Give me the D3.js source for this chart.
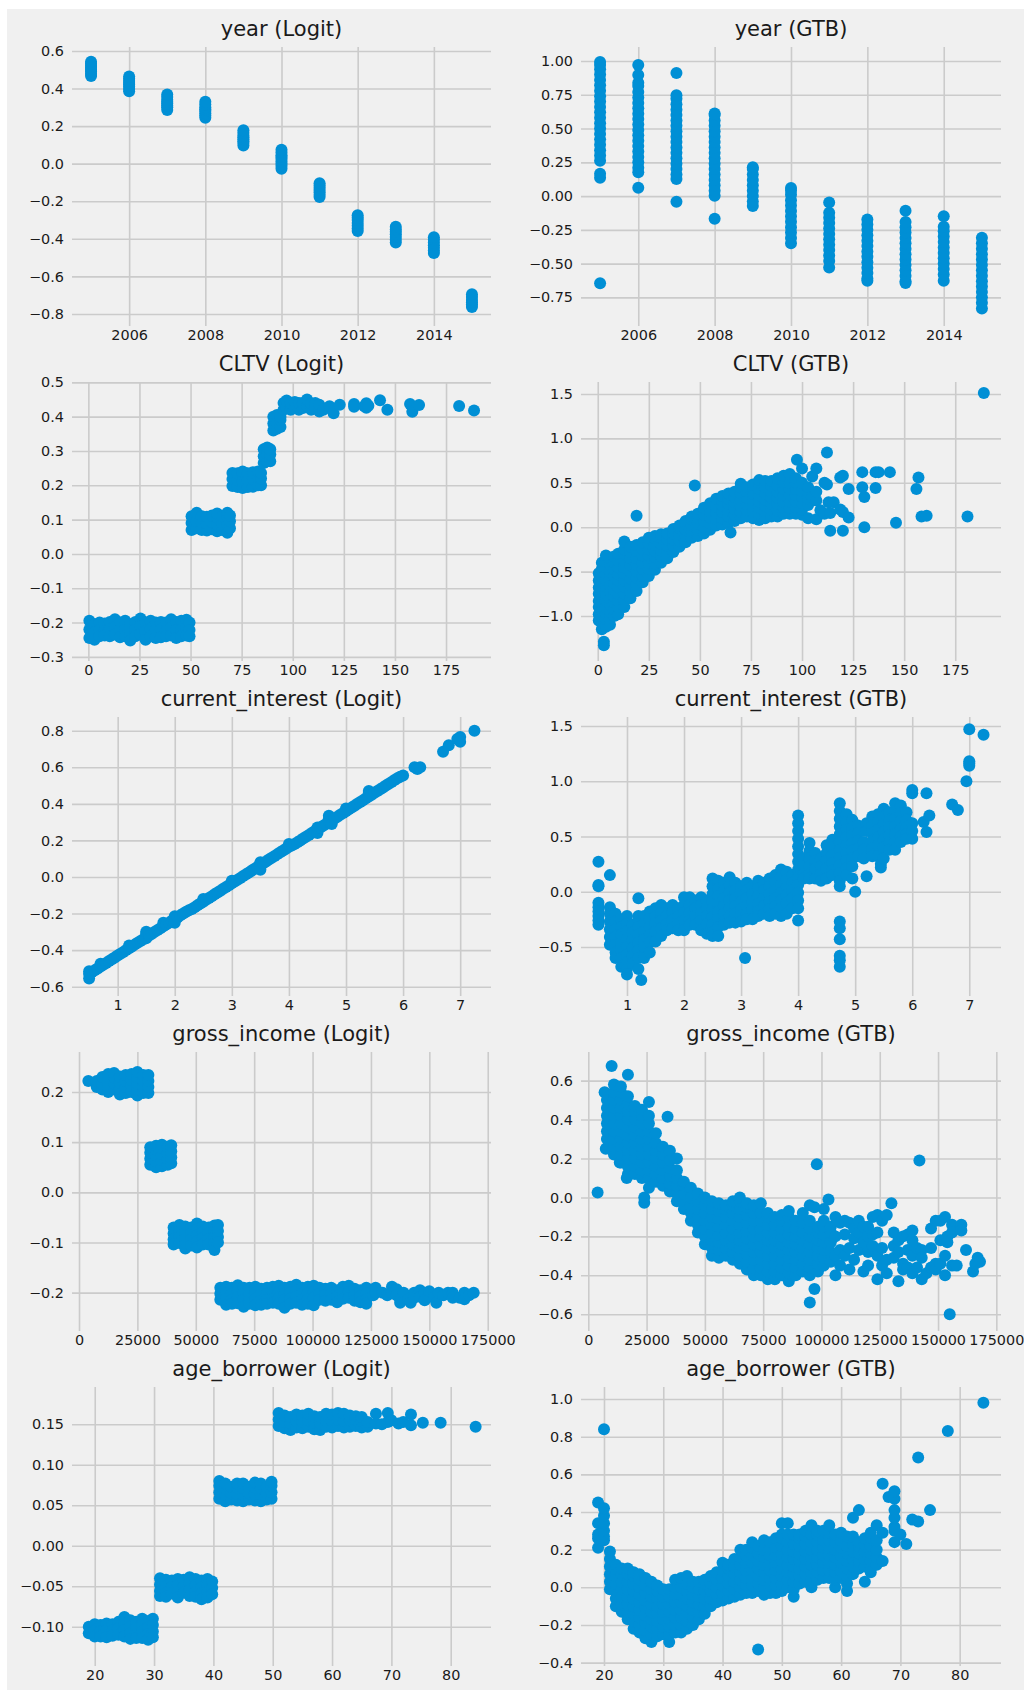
<!DOCTYPE html>
<html>
<head>
<meta charset="utf-8">
<script src="https://cdn.jsdelivr.net/npm/d3@7"></script>
<style>
    body { margin: 0; background: #ffffff; }
    svg { display: block; }
    .tick text { font-family: "DejaVu Sans", sans-serif; font-size: 14.4px; fill: #1a1a1a; }
    .title { font-family: "DejaVu Sans", sans-serif; font-size: 21px; fill: #1a1a1a; }
</style>
</head>
<body>
<svg id="chart" width="1024" height="1690"></svg>
<script>
// each row: [x, y1, y2, ...]  -> one dot per y value at that x

var yearLogit = [
    [2005, .467, .478, .49, .50, .51, .52, .532, .542],
    [2006, .386, .397, .41, .42, .43, .44, .452, .464],
    [2007, .286, .30, .31, .32, .33, .34, .355, .368],
    [2008, .244, .256, .268, .28, .29, .30, .315, .329],
    [2009, .097, .11, .12, .13, .14, .15, .165, .178],
    [2010, -.027, -.012, 0, .012, .025, .035, .045, .06, .074],
    [2011, -.178, -.165, -.152, -.14, -.128, -.116, -.104],
    [2012, -.359, -.345, -.33, -.316, -.30, -.288, -.274],
    [2013, -.419, -.405, -.39, -.376, -.362, -.35, -.336],
    [2014, -.476, -.462, -.448, -.434, -.42, -.405, -.391],
    [2015, -.763, -.75, -.738, -.725, -.71, -.695]
];

var yearGtb = [
    [2005, -.646, .136, .166, .262, .30, .34, .38, .42, .46, .50, .54, .58, .62, .66, .70, .74, .78, .82, .86, .90, .94, .97, .993],
    [2006, .062, .176, .21, .25, .29, .33, .37, .41, .45, .49, .53, .57, .61, .65, .69, .73, .77, .815, .84, .896, .97],
    [2007, -.042, .126, .16, .20, .24, .28, .32, .36, .40, .44, .48, .52, .56, .60, .64, .68, .72, .746, .911],
    [2008, -.168, .003, .04, .08, .12, .16, .20, .24, .28, .32, .36, .40, .44, .48, .52, .56, .60, .612],
    [2009, -.074, -.04, 0, .04, .08, .12, .16, .20, .213],
    [2010, -.35, -.31, -.27, -.23, -.19, -.15, -.11, -.07, -.03, .01, .04, .06],
    [2011, -.528, -.48, -.44, -.40, -.36, -.32, -.28, -.24, -.20, -.16, -.123, -.047],
    [2012, -.627, -.61, -.57, -.53, -.49, -.45, -.41, -.37, -.33, -.29, -.25, -.21, -.173],
    [2013, -.644, -.63, -.59, -.55, -.51, -.47, -.43, -.39, -.35, -.31, -.27, -.23, -.192, -.108],
    [2014, -.627, -.58, -.54, -.50, -.46, -.42, -.38, -.34, -.30, -.26, -.227, -.15],
    [2015, -.832, -.79, -.75, -.71, -.67, -.63, -.59, -.55, -.51, -.47, -.43, -.39, -.35, -.308]
];

var cltvLogit = [
    [0.5, -.195, -.22, -.245], [3, -.205, -.228, -.25], [5.5, -.2, -.222, -.24], [8, -.203, -.225, -.238],
    [10.5, -.198, -.218, -.24], [13, -.19, -.212, -.235], [15.5, -.2, -.222, -.243], [18, -.195, -.22, -.24],
    [20.5, -.205, -.228, -.252], [23, -.198, -.22, -.24], [25.5, -.188, -.21, -.235], [28, -.2, -.225, -.25],
    [30.5, -.195, -.218, -.24], [33, -.2, -.222, -.245], [35.5, -.198, -.22, -.243], [38, -.2, -.225, -.24],
    [40.5, -.19, -.215, -.238], [43, -.198, -.222, -.245], [45.5, -.195, -.22, -.24], [48, -.192, -.215, -.238],
    [49.5, -.2, -.222, -.24],
    [50.5, .07, .09, .11], [53, .075, .095, .12], [55.5, .07, .09, .11], [58, .068, .088, .108],
    [60.5, .072, .092, .112], [63, .066, .086, .106, .118], [65.5, .07, .09, .11], [68, .062, .085, .108, .12],
    [69.3, .075, .095, .112],
    [70.5, .198, .218, .236], [73, .195, .215, .235], [75.5, .192, .212, .232, .24], [78, .195, .215, .235],
    [80.5, .196, .218, .238], [83, .2, .22, .24], [84.5, .2, .22, .236],
    [85.8, .265, .285, .305], [87.5, .27, .29, .31], [89, .27, .29, .305],
    [90.5, .36, .38, .4], [92.3, .365, .385, .405], [94, .37, .39, .4],
    [95.5, .42, .44], [97, .425, .447], [99, .42, .44], [101, .425, .443], [103, .42, .44], [105, .425, .44],
    [107, .43, .45], [109, .42, .438], [111, .425, .44], [113, .415, .435], [115, .42], [118, .43], [120, .41],
    [123, .435], [130, .437, .429], [135, .43], [136, .439, .426], [137, .432], [142.7, .448], [146.3, .42],
    [157.4, .437], [158.5, .414], [161.8, .434], [181.4, .431], [188.7, .418]
];

var cltvGtb = [
    [0.5, -1.05, -.98, -.9, -.83, -.75, -.68, -.6, -.52],
    [2, -1.15, -1.08, -1.0, -.93, -.85, -.78, -.7, -.62, -.55, -.47, -.4],
    [4, -1.12, -1.04, -.97, -.9, -.82, -.75, -.67, -.6, -.52, -.45, -.38, -.32],
    [6, -1.1, -1.02, -.95, -.87, -.8, -.72, -.65, -.57, -.5, -.42, -.35],
    [8, -1.0, -.93, -.85, -.78, -.7, -.63, -.55, -.48, -.4, -.33],
    [10, -.98, -.9, -.83, -.75, -.68, -.6, -.53, -.45, -.38, -.3],
    [13, -.9, -.82, -.75, -.67, -.6, -.52, -.45, -.38, -.3, -.25, -.16],
    [16, -.8, -.73, -.65, -.58, -.5, -.43, -.35, -.28, -.22],
    [19, -.72, -.65, -.57, -.5, -.42, -.35, -.27, -.2, .13],
    [22, -.62, -.55, -.47, -.4, -.32, -.25, -.17],
    [25, -.55, -.47, -.4, -.32, -.25, -.18, -.12],
    [28, -.48, -.41, -.34, -.27, -.2, -.13, -.1],
    [31, -.4, -.33, -.26, -.19, -.12, -.08],
    [34, -.35, -.28, -.21, -.14, -.07],
    [37, -.28, -.21, -.14, -.07, -.02],
    [40, -.22, -.15, -.08, -.01, .02],
    [43, -.17, -.1, -.03, .04, .07],
    [46, -.12, -.05, .02, .09, .12],
    [47.5, .47],
    [49, -.1, -.03, .04, .11, .15],
    [52, -.07, 0, .07, .14, .22],
    [55, -.03, .04, .11, .18, .27],
    [58, .02, .09, .16, .23, .32],
    [61, .03, .1, .17, .24, .3, .35],
    [64, .05, .12, .19, .26, .32, .38],
    [65, -.06],
    [67, .07, .14, .21, .28, .34, .4],
    [70, .1, .17, .24, .31, .38, .45, .49],
    [73, .12, .19, .26, .33, .4, .45],
    [76, .1, .17, .24, .31, .38, .44, .48],
    [79, .08, .15, .22, .29, .36, .43, .5, .53],
    [82, .1, .17, .24, .31, .38, .45, .52],
    [85, .12, .19, .26, .33, .4, .47, .52],
    [88, .12, .19, .26, .33, .4, .47, .55],
    [91, .15, .22, .29, .36, .43, .5, .58],
    [94, .15, .22, .29, .36, .43, .5, .6],
    [97, .15, .22, .29, .36, .43, .5, .55],
    [97.5, .76],
    [100, .14, .2, .27, .34, .41, .5, .66],
    [103, .1, .25, .32, .39, .45],
    [105, .34, .57],
    [107, .09, .3, .4, .66],
    [109, .19],
    [111, .15, .5],
    [112.2, .84, .48],
    [113, .28],
    [113.8, -.04, .16],
    [115.5, .28],
    [118.7, .2, .56],
    [120, -.04, .17, .58],
    [122.8, .11, .43],
    [129.5, .45, .62], [130.5, 0, .34], [136, .44, .62], [137.5, .62], [143, .62], [146, .05],
    [156, .43], [157, .56], [158.5, .12], [161, .13], [181, .12], [189, 1.51],
    [3, -1.29, -1.33]
];

var interestLogit = [
    [0.5, -.555, -.53, -.515], [0.55, -.52], [0.6, -.51], [0.65, -.5], [0.7, -.49, -.475], [0.75, -.48],
    [0.8, -.47], [0.85, -.46], [0.9, -.45], [0.95, -.44], [1.0, -.43], [1.05, -.42], [1.1, -.41], [1.15, -.4],
    [1.2, -.39, -.375], [1.25, -.38], [1.3, -.37], [1.35, -.36], [1.4, -.35], [1.45, -.34], [1.5, -.335, -.31, -.3],
    [1.55, -.32], [1.6, -.31], [1.65, -.3], [1.7, -.29], [1.75, -.28], [1.8, -.27, -.25], [1.85, -.26],
    [1.9, -.25], [1.95, -.24], [2.0, -.235, -.215, -.25], [2.05, -.222], [2.1, -.21], [2.15, -.2],
    [2.2, -.19], [2.25, -.182], [2.3, -.175], [2.35, -.165], [2.4, -.155], [2.45, -.145], [2.5, -.135, -.12],
    [2.55, -.125], [2.6, -.115], [2.65, -.105], [2.7, -.095], [2.75, -.085], [2.8, -.075], [2.85, -.065],
    [2.9, -.055], [2.95, -.045], [3.0, -.035, -.02], [3.05, -.025], [3.1, -.015], [3.15, -.005], [3.2, .005],
    [3.25, .015], [3.3, .025], [3.35, .035], [3.4, .045], [3.45, .055], [3.5, .065, .04, .08], [3.55, .075],
    [3.6, .085], [3.65, .095], [3.7, .105], [3.75, .115], [3.8, .125], [3.85, .135], [3.9, .145], [3.95, .155],
    [4.0, .165, .18], [4.05, .172], [4.1, .18], [4.15, .19], [4.2, .2], [4.25, .21], [4.3, .22], [4.35, .23],
    [4.4, .24], [4.45, .25], [4.5, .26, .24, .27], [4.55, .27], [4.6, .28], [4.65, .29], [4.7, .3, .32, .335],
    [4.75, .31, .29], [4.8, .32], [4.85, .33], [4.9, .34], [4.95, .35], [5.0, .36, .375], [5.05, .37],
    [5.1, .38], [5.15, .39], [5.2, .4], [5.25, .41], [5.3, .42], [5.35, .43], [5.4, .44, .46, .47],
    [5.45, .45], [5.5, .46], [5.55, .47], [5.6, .48], [5.65, .49], [5.7, .5], [5.75, .51], [5.8, .52],
    [5.85, .53], [5.9, .54], [5.95, .548], [6.0, .555],
    [6.2, .6], [6.25, .59], [6.3, .6], [6.7, .685], [6.8, .72], [6.95, .755], [7.0, .765, .74], [7.25, .8]
];

var interestGtb = [
    [0.5, .27, .06, .05, -.1, -.14, -.18, -.22, -.26, -.3],
    [0.7, .15, -.14, -.2, -.27, -.34, -.41, -.48],
    [0.8, -.2, -.27, -.34, -.41, -.48, -.55, -.6],
    [0.9, -.25, -.32, -.39, -.46, -.53, -.6, -.68],
    [1.0, -.22, -.29, -.36, -.43, -.5, -.57, -.64, -.7, -.75],
    [1.1, -.3, -.37, -.44, -.51, -.58, -.65],
    [1.2, -.06, -.22, -.25, -.32, -.39, -.46, -.53, -.6, -.7],
    [1.25, -.8],
    [1.3, -.22, -.29, -.36, -.43, -.5, -.6],
    [1.4, -.18, -.25, -.32, -.39, -.46, -.55],
    [1.5, -.15, -.22, -.29, -.36, -.45],
    [1.6, -.12, -.19, -.26, -.33, -.4],
    [1.7, -.15, -.22, -.29, -.35],
    [1.8, -.12, -.19, -.26, -.33],
    [1.9, -.15, -.22, -.29, -.35],
    [2.0, -.05, -.12, -.19, -.26, -.35],
    [2.1, -.05, -.12, -.19, -.26, -.3],
    [2.2, -.08, -.15, -.22, -.3],
    [2.3, -.05, -.12, -.19, -.26, -.35],
    [2.4, -.08, -.15, -.22, -.29, -.38],
    [2.5, .12, .05, -.02, -.09, -.16, -.23, -.3, -.37, -.4],
    [2.6, .1, .03, -.04, -.11, -.18, -.25, -.32, -.4],
    [2.7, .08, .01, -.06, -.13, -.2, -.27, -.3],
    [2.8, .13, .06, -.01, -.08, -.15, -.22, -.28],
    [2.9, .08, .01, -.06, -.13, -.2, -.28],
    [3.0, .05, -.02, -.09, -.16, -.22, -.27],
    [3.07, -.6],
    [3.1, .08, .01, -.06, -.13, -.2, -.25],
    [3.2, .05, -.02, -.09, -.16, -.25],
    [3.3, .1, .03, -.04, -.11, -.18, -.22],
    [3.4, .08, .01, -.06, -.13, -.2],
    [3.5, .12, .05, -.02, -.09, -.16, -.22],
    [3.6, .15, .08, .01, -.06, -.13, -.2],
    [3.7, .2, .13, .06, -.01, -.08, -.15, -.22],
    [3.8, .18, .11, .04, -.03, -.1, -.2],
    [3.9, .15, .08, .01, -.06, -.15],
    [4.0, .69, .62, .55, .48, .41, .34, .27, .2, .13, .06, -.01, -.08, -.15, -.26],
    [4.1, .3, .23, .16, .12],
    [4.2, .44, .37, .3, .23, .16, .12],
    [4.3, .35, .28, .21, .12],
    [4.4, .3, .23, .16, .1],
    [4.5, .42, .35, .28, .21, .12],
    [4.6, .47, .4, .33, .26, .19, .15],
    [4.73, .8, .73, .66, .59, .52, .45, .38, .31, .24, .17, .1, .05, -.27, -.33, -.43, -.58, -.62, -.68],
    [4.85, .7, .63, .56, .49, .42, .35, .28, .21, .15],
    [4.95, .65, .58, .51, .44, .37, .3, .23, .12],
    [5.0, 0],
    [5.05, .6, .53, .46, .39, .32],
    [5.15, .45, .38, .3],
    [5.2, .62, .55, .14],
    [5.3, .68, .6, .53, .46, .39, .32],
    [5.4, .7, .63, .56, .49, .42, .32],
    [5.45, .22, .25],
    [5.5, .75, .68, .61, .54, .47, .4, .3],
    [5.6, .72, .65, .58, .51, .44, .38],
    [5.7, .8, .73, .66, .59, .52, .45, .38],
    [5.8, .78, .71, .64, .57, .5, .45],
    [5.9, .72, .65, .58, .52, .48],
    [6.0, .92, .89, .62, .55, .48],
    [6.2, .63], [6.25, .54, .89], [6.3, .69], [6.7, .79], [6.8, .74], [6.95, 1.0],
    [7.0, 1.14, 1.16, 1.18, 1.47], [7.25, 1.42]
];

var incomeLogit = [
    [4000, .222], [7600, .21, .222], [10000, .205, .217, .23], [12500, .2, .212, .224, .236],
    [15000, .205, .217, .229, .238], [17500, .195, .207, .219, .231], [20000, .198, .21, .222, .234],
    [22500, .2, .212, .224, .236], [25000, .193, .205, .217, .229, .24], [27500, .198, .21, .222, .234],
    [29700, .198, .21, .222, .234],
    [30500, .055, .067, .079, .09], [33000, .05, .062, .074, .086, .093], [35500, .052, .064, .076, .088, .095],
    [38000, .055, .067, .079, .091], [39500, .058, .07, .082, .094],
    [40500, -.07, -.082, -.094, -.104], [43000, -.065, -.077, -.089, -.101], [45500, -.068, -.08, -.092, -.104, -.112],
    [48000, -.07, -.082, -.094, -.106], [50500, -.062, -.074, -.086, -.098, -.11], [53000, -.068, -.08, -.092, -.104],
    [55500, -.07, -.082, -.094, -.104], [58000, -.066, -.078, -.09, -.102, -.115], [59500, -.065, -.077, -.089, -.1],
    [60500, -.19, -.202, -.214], [63000, -.188, -.2, -.212, -.224], [65500, -.19, -.202, -.214, -.222],
    [68000, -.185, -.197, -.209, -.221], [70500, -.19, -.202, -.214, -.228], [73000, -.19, -.202, -.214, -.222],
    [75500, -.188, -.2, -.212, -.225], [78000, -.192, -.204, -.216, -.224], [80500, -.19, -.202, -.214, -.222],
    [83000, -.188, -.2, -.212, -.22], [85500, -.186, -.198, -.21, -.222], [88000, -.19, -.202, -.214, -.23],
    [90500, -.188, -.2, -.212, -.222], [93000, -.184, -.196, -.208, -.22], [95500, -.19, -.202, -.214, -.224],
    [98000, -.188, -.2, -.212, -.222], [100500, -.186, -.198, -.21, -.225], [103000, -.19, -.202, -.214],
    [105500, -.192, -.204, -.216], [108000, -.19, -.202, -.214], [110500, -.195, -.207, -.219],
    [113000, -.188, -.2, -.212], [115500, -.186, -.198, -.21], [118000, -.192, -.204, -.216],
    [120500, -.195, -.207, -.219], [123000, -.19, -.202, -.214, -.222],
    [126000, -.205], [127000, -.19, -.2], [130000, -.2], [132000, -.205], [134000, -.188, -.2],
    [136000, -.193, -.205], [137500, -.213, -.22], [139000, -.2], [141000, -.213], [142000, -.22],
    [143500, -.2, -.21], [146000, -.195, -.208], [148000, -.2, -.215], [150000, -.197], [152000, -.21],
    [153000, -.22], [154000, -.2], [156000, -.205], [158000, -.2], [160000, -.2, -.21], [163000, -.21],
    [165000, -.2, -.213], [167000, -.205], [169000, -.2]
];

var incomeGtb = [
    [4000, .025], [7000, .54], [7500, .25], [10000, .675], [13500, .18], [16500, .1], [17000, .63],
    [24000, -.027, 0], [34000, .415],
    [8000, .3, .34, .38, .42, .46, .5],
    [11000, .22, .26, .3, .34, .38, .42, .46, .5, .54, .58],
    [14000, .18, .22, .26, .3, .34, .38, .42, .46, .5, .54, .57],
    [17000, .12, .16, .2, .24, .28, .32, .36, .4, .44, .48, .52],
    [20000, .12, .16, .2, .24, .28, .32, .36, .4, .44, .47],
    [23000, .1, .14, .18, .22, .26, .3, .34, .38, .42, .45],
    [26000, .05, .1, .14, .18, .22, .26, .3, .34, .38, .42, .49],
    [29000, .08, .12, .16, .2, .24, .28, .33],
    [32000, .06, .1, .14, .18, .22, .26],
    [35000, .03, .07, .11, .15, .19, .24],
    [38000, -.02, .02, .06, .1, .14, .2],
    [41000, -.06, -.02, .02, .06, .08],
    [44000, -.12, -.08, -.04, 0, .05],
    [47000, -.18, -.14, -.1, -.06, -.02, .02],
    [50000, -.24, -.2, -.16, -.12, -.08, -.04, 0],
    [53000, -.3, -.26, -.22, -.18, -.14, -.1, -.06, -.02],
    [56000, -.31, -.27, -.23, -.19, -.15, -.11, -.07, -.03],
    [59000, -.3, -.26, -.22, -.18, -.14, -.1, -.06, -.04],
    [62000, -.32, -.28, -.24, -.2, -.16, -.12, -.08, -.04, -.02],
    [65000, -.34, -.3, -.26, -.22, -.18, -.14, -.1, -.06, -.02, 0],
    [68000, -.37, -.33, -.29, -.25, -.21, -.17, -.13, -.09, -.05, -.03],
    [71000, -.4, -.36, -.32, -.28, -.24, -.2, -.16, -.12, -.08, -.04],
    [74000, -.4, -.36, -.32, -.28, -.24, -.2, -.16, -.12, -.08, -.03],
    [77000, -.42, -.38, -.34, -.3, -.26, -.22, -.18, -.14, -.1, -.08],
    [80000, -.42, -.38, -.34, -.3, -.26, -.22, -.18, -.14, -.1],
    [83000, -.4, -.36, -.32, -.28, -.24, -.2, -.16, -.12, -.09],
    [86000, -.43, -.39, -.35, -.31, -.27, -.23, -.19, -.15, -.1, -.07],
    [89000, -.4, -.36, -.32, -.28, -.24, -.2, -.16, -.12],
    [92000, -.38, -.34, -.3, -.26, -.22, -.18, -.13, -.08],
    [95000, -.54, -.4, -.36, -.32, -.28, -.24, -.2, -.16, -.12, -.04],
    [97000, -.47, -.05], [98000, .17],
    [98500, -.38, -.34, -.3, -.26, -.22, -.18, -.15],
    [101000, -.35, -.31, -.27, -.23, -.19, -.15, -.12, -.06],
    [103000, -.01], [104000, -.33, -.28, -.23, -.18, -.15],
    [106000, -.1, -.2, -.3, -.4], [108000, -.13, -.27, -.35], [110000, -.12, -.19, -.3], [112000, -.13, -.26, -.37],
    [114000, -.16, -.21, -.32], [116000, -.12, -.18, -.27], [118000, -.15, -.23, -.38], [120000, -.15, -.2, -.28, -.35],
    [122000, -.1, -.19, -.25], [124000, -.09, -.18, -.3, -.42], [126000, -.12, -.26, -.35], [128000, -.09, -.32, -.39],
    [130000, -.03], [131000, -.18, -.25, -.31], [133000, -.22, -.28, -.43], [135000, -.2, -.34, -.37],
    [137000, -.19, -.27, -.36], [139000, -.17, -.22, -.3, -.39], [141000, -.26, -.36], [142000, .19],
    [143000, -.27, -.31, -.42], [145000, -.39], [147000, -.16, -.26, -.36], [149000, -.12, -.34, -.37],
    [151000, -.12, -.22, -.34], [153000, -.1, -.3, -.4], [154000, -.2, -.23], [155000, -.6],
    [156000, -.14, -.18, -.35], [158000, -.35], [160000, -.14, -.17], [162000, -.27], [165000, -.38],
    [166000, -.34], [167000, -.31], [168000, -.33]
];

var ageLogit = [
    [19, -.1, -.108], [20, -.097, -.105, -.112], [21, -.098, -.106, -.112], [22, -.096, -.104, -.113],
    [23, -.097, -.105, -.111], [24, -.094, -.102, -.11], [25, -.088, -.096, -.104, -.112], [26, -.092, -.1, -.108, -.115],
    [27, -.094, -.102, -.11, -.114], [28, -.09, -.098, -.106, -.114], [29, -.093, -.101, -.109, -.116],
    [29.8, -.09, -.098, -.106, -.113],
    [31, -.04, -.048, -.056, -.062], [32, -.042, -.05, -.058, -.063], [33, -.043, -.051, -.059],
    [34, -.041, -.049, -.057, -.064], [35, -.042, -.05, -.058], [36, -.039, -.047, -.055, -.062],
    [37, -.041, -.049, -.057, -.063], [38, -.043, -.051, -.059, -.066], [39, -.041, -.049, -.057, -.064],
    [39.8, -.044, -.052, -.06],
    [41, .058, .066, .074, .08], [42, .055, .063, .071, .077], [43, .057, .065, .073], [44, .056, .064, .072, .077],
    [45, .055, .063, .071, .077], [46, .057, .065, .073], [47, .056, .064, .072, .078], [48, .055, .063, .071, .077],
    [49, .057, .065, .073], [49.8, .058, .066, .074, .079],
    [51, .148, .156, .164], [52, .145, .153, .161], [53, .143, .151, .159], [54, .146, .154, .162],
    [55, .145, .153, .161], [56, .147, .155, .163], [57, .144, .152, .16], [58, .143, .151, .159],
    [59, .147, .155, .163], [60, .146, .154, .162], [61, .148, .156, .164], [62, .146, .154, .163],
    [63, .147, .155, .161], [64, .148, .156, .16], [65, .146, .154, .159], [66, .147, .153],
    [67.4, .151, .163], [68.4, .15], [69.4, .153, .164], [70, .155], [71.2, .151], [72, .153],
    [73.3, .149, .162], [75.3, .152], [78.3, .152], [84.2, .147]
];

var ageGtb = [
    [19, .21, .26, .28, .34, .45],
    [20, .25, .27, .3, .34, .38, .42, .84],
    [21, -.01, .03, .07, .11, .15, .19],
    [22, -.1, -.06, -.02, .02, .06, .1, .12],
    [23, -.13, -.09, -.05, -.01, .03, .07, .1],
    [24, -.17, -.13, -.09, -.05, -.01, .03, .07, .1],
    [25, -.22, -.18, -.14, -.1, -.06, -.02, .02, .06, .08],
    [26, -.24, -.2, -.16, -.12, -.08, -.04, 0, .04, .07],
    [27, -.27, -.23, -.19, -.15, -.11, -.07, -.03, .01, .05],
    [28, -.29, -.25, -.21, -.17, -.13, -.09, -.05, -.01, .03],
    [29, -.26, -.22, -.18, -.14, -.1, -.06, -.02, .01],
    [30, -.25, -.21, -.17, -.13, -.09, -.05, -.01],
    [31, -.29, -.25, -.21, -.17, -.13, -.09, -.05, -.01],
    [32, -.24, -.2, -.16, -.12, -.08, -.04, 0, .04],
    [33, -.24, -.2, -.16, -.12, -.08, -.04, 0, .05],
    [34, -.22, -.18, -.14, -.1, -.06, -.02, .02, .06],
    [35, -.2, -.16, -.12, -.08, -.04, 0, .03],
    [36, -.17, -.13, -.09, -.05, -.01, .03],
    [37, -.14, -.1, -.06, -.02, .02, .04],
    [38, -.1, -.06, -.02, .02, .06],
    [39, -.08, -.04, 0, .04, .08],
    [40, -.07, -.03, .01, .05, .09, .13],
    [41, -.06, -.02, .02, .06, .1, .12],
    [42, -.05, -.01, .03, .07, .11, .15],
    [43, -.04, 0, .04, .08, .12, .16, .2],
    [44, -.03, .01, .05, .09, .13, .17, .2],
    [45, -.03, .01, .05, .09, .13, .17, .21, .24],
    [46, -.33, -.02, .02, .06, .1, .14, .18, .22],
    [47, -.04, 0, .04, .08, .12, .16, .2, .25],
    [48, -.03, .01, .05, .09, .13, .17, .21, .24],
    [49, -.03, .01, .05, .09, .13, .17, .21, .26],
    [50, -.02, .02, .06, .1, .14, .18, .22, .26, .28, .34],
    [51, 0, .04, .08, .12, .16, .2, .24, .28, .34],
    [52, -.05, -.01, .03, .07, .11, .15, .19, .23, .28],
    [53, .02, .06, .1, .14, .18, .22, .26, .28],
    [54, .03, .07, .11, .15, .19, .23, .27, .3],
    [55, 0, .04, .08, .12, .16, .2, .24, .28, .33],
    [56, .04, .08, .12, .16, .2, .24, .28, .3],
    [57, .05, .09, .13, .17, .21, .25, .3],
    [58, .05, .09, .13, .17, .21, .25, .29, .33],
    [59, 0, .04, .08, .12, .16, .2, .24, .28],
    [60, .05, .09, .13, .17, .21, .25, .29],
    [61, -.02, .02, .06, .1, .14, .18, .22, .27],
    [62, .07, .11, .15, .19, .23, .27, .37],
    [63, .1, .14, .18, .22, .24, .41],
    [64, .03, .11, .15, .19, .23, .26],
    [65, .08, .1, .14, .18, .22, .26, .29],
    [66, .12, .16, .2, .25, .33],
    [67, .14, .29, .55], [68, .48], [69, .24, .3, .32, .37, .41, .47, .51], [70, .28], [71, .23],
    [72, .36], [73, .35, .69], [75, .41], [78, .83], [84, .98]
];

// tick values
var yearTicks = [2006, 2008, 2010, 2012, 2014];
var cltvTicks = [0, 25, 50, 75, 100, 125, 150, 175];
var interestTicks = [1, 2, 3, 4, 5, 6, 7];
var incomeTicks = [0, 25000, 50000, 75000, 100000, 125000, 150000, 175000];
var ageTicks = [20, 30, 40, 50, 60, 70, 80];

var yearLogitYTicks = [-0.8, -0.6, -0.4, -0.2, 0, 0.2, 0.4, 0.6];
var yearGtbYTicks = [-0.75, -0.5, -0.25, 0, 0.25, 0.5, 0.75, 1.0];
var cltvLogitYTicks = [-0.3, -0.2, -0.1, 0, 0.1, 0.2, 0.3, 0.4, 0.5];
var cltvGtbYTicks = [-1.0, -0.5, 0, 0.5, 1.0, 1.5];
var interestLogitYTicks = [-0.6, -0.4, -0.2, 0, 0.2, 0.4, 0.6, 0.8];
var interestGtbYTicks = [-0.5, 0, 0.5, 1.0, 1.5];
var incomeLogitYTicks = [-0.2, -0.1, 0, 0.1, 0.2];
var incomeGtbYTicks = [-0.6, -0.4, -0.2, 0, 0.2, 0.4, 0.6];
var ageLogitYTicks = [-0.10, -0.05, 0, 0.05, 0.10, 0.15];
var ageGtbYTicks = [-0.4, -0.2, 0, 0.2, 0.4, 0.6, 0.8, 1.0];

var titles = ["year (Logit)", "year (GTB)", "CLTV (Logit)", "CLTV (GTB)",
    "current_interest (Logit)", "current_interest (GTB)", "gross_income (Logit)", "gross_income (GTB)",
    "age_borrower (Logit)", "age_borrower (GTB)"];

var colX = [[72, 491], [581, 1001]];
var rowTop = [47, 382, 717, 1052, 1387];
var plotHeight = 279;
var dotColor = "#008fd5";

var panels = [
    {data: yearLogit, xd: [2004.5, 2015.5], yd: [-0.864, 0.621], xt: yearTicks, yt: yearLogitYTicks, yf: ".1f"},
    {data: yearGtb, xd: [2004.5, 2015.5], yd: [-0.962, 1.104], xt: yearTicks, yt: yearGtbYTicks, yf: ".2f"},
    {data: cltvLogit, xd: [-8, 197], yd: [-0.312, 0.501], xt: cltvTicks, yt: cltvLogitYTicks, yf: ".1f"},
    {data: cltvGtb, xd: [-8.2, 197.4], yd: [-1.507, 1.635], xt: cltvTicks, yt: cltvGtbYTicks, yf: ".1f"},
    {data: interestLogit, xd: [0.2, 7.54], yd: [-0.651, 0.875], xt: interestTicks, yt: interestLogitYTicks, yf: ".1f"},
    {data: interestGtb, xd: [0.194, 7.556], yd: [-0.944, 1.581], xt: interestTicks, yt: interestGtbYTicks, yf: ".1f"},
    {data: incomeLogit, xd: [-3000, 176400], yd: [-0.2764, 0.2797], xt: incomeTicks, yt: incomeLogitYTicks, yf: ".1f"},
    {data: incomeGtb, xd: [-3130, 177000], yd: [-0.686, 0.747], xt: incomeTicks, yt: incomeGtbYTicks, yf: ".1f"},
    {data: ageLogit, xd: [16.17, 86.79], yd: [-0.1485, 0.1961], xt: ageTicks, yt: ageLogitYTicks, yf: ".2f"},
    {data: ageGtb, xd: [16.12, 86.97], yd: [-0.418, 1.064], xt: ageTicks, yt: ageGtbYTicks, yf: ".1f"}
];

/***
 * Flattens the [x, y1, y2, ...] rows into [x, y] dots
 */
function toPoints(rows) {
    var pts = [];
    rows.forEach(function (r) {
        for (var i = 1; i < r.length; i++) {
            pts.push([r[0], r[i]]);
        }
    });
    return pts;
}

var svg = d3.select("#chart");

// figure background
svg.append("rect")
    .attr("x", 7).attr("y", 9)
    .attr("width", 1017).attr("height", 1681)
    .attr("fill", "#f0f0f0");

function drawPanel(p, i) {
    var col = i % 2, row = Math.floor(i / 2);
    var x0 = colX[col][0], x1 = colX[col][1];
    var y0 = rowTop[row], y1 = y0 + plotHeight;

    var x = d3.scaleLinear().domain(p.xd).range([x0, x1]);
    var y = d3.scaleLinear().domain(p.yd).range([y1, y0]);

    var g = svg.append("g");

    // grid
    g.append("g")
        .attr("transform", "translate(0," + y1 + ")")
        .call(d3.axisBottom(x).tickValues(p.xt).tickSize(-plotHeight).tickFormat(""))
        .call(function (a) { a.select(".domain").remove(); });
    g.append("g")
        .attr("transform", "translate(" + x0 + ",0)")
        .call(d3.axisLeft(y).tickValues(p.yt).tickSize(-(x1 - x0)).tickFormat(""))
        .call(function (a) { a.select(".domain").remove(); });
    g.selectAll(".tick line").attr("stroke", "#cbcbcb").attr("stroke-width", 1.6);

    // labels
    g.append("g")
        .attr("transform", "translate(0," + y1 + ")")
        .call(d3.axisBottom(x).tickValues(p.xt).tickSize(0).tickPadding(4).tickFormat(d3.format("d")))
        .call(function (a) { a.select(".domain").remove(); });
    g.append("g")
        .attr("transform", "translate(" + x0 + ",0)")
        .call(d3.axisLeft(y).tickValues(p.yt).tickSize(0).tickPadding(8).tickFormat(d3.format(p.yf)))
        .call(function (a) { a.select(".domain").remove(); });
    g.selectAll(".tick text").attr("font-size", null).attr("font-family", null);

    // dots
    g.append("g")
        .selectAll("circle")
        .data(toPoints(p.data))
        .enter()
        .append("circle")
        .attr("cx", function (d) { return x(d[0]); })
        .attr("cy", function (d) { return y(d[1]); })
        .attr("r", 6)
        .attr("fill", dotColor);

    g.append("text")
        .attr("class", "title")
        .attr("x", (x0 + x1) / 2)
        .attr("y", y0 - 11)
        .attr("text-anchor", "middle")
        .text(titles[i]);
}

panels.forEach(drawPanel);
</script>
</body>
</html>
